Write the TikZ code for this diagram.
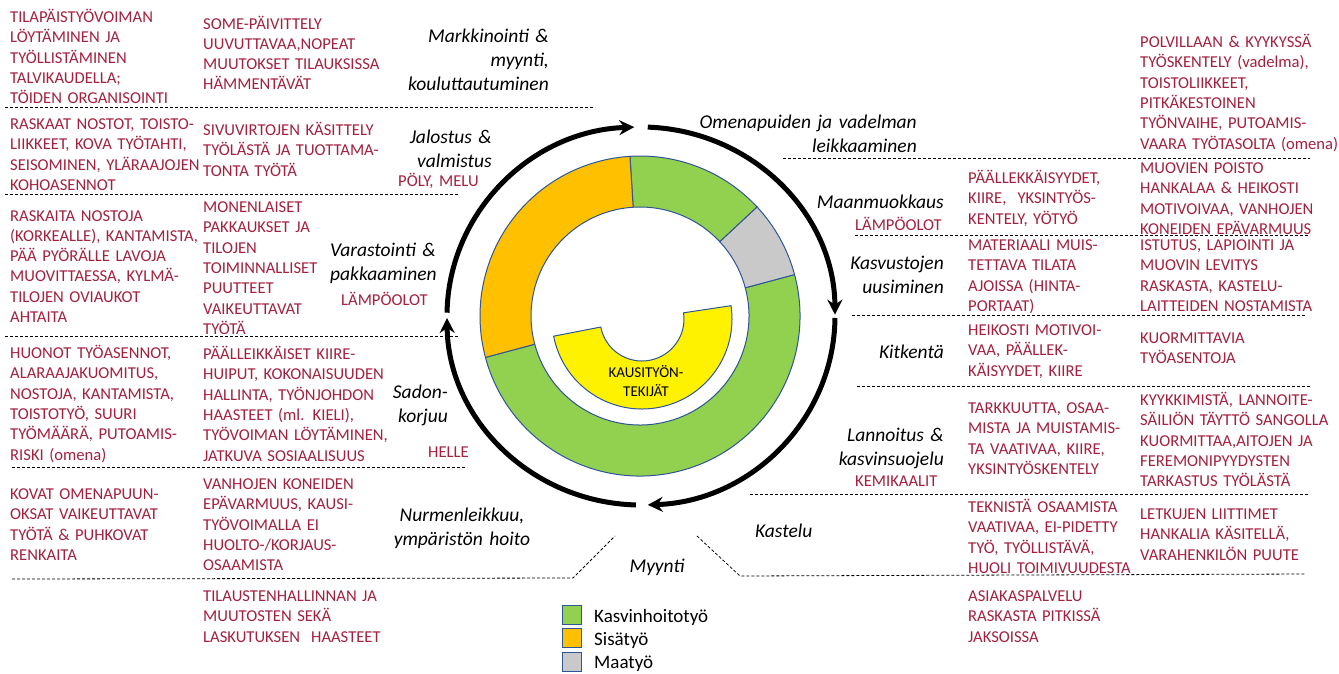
\documentclass[tikz,border=0pt]{standalone}
\usepackage{fontspec}
\setmainfont{Carlito}
\usetikzlibrary{arrows.meta}
\definecolor{riskred}{RGB}{163,32,62}
\definecolor{kasvigreen}{RGB}{146,208,80}
\definecolor{sisaorange}{RGB}{255,192,0}
\definecolor{maagray}{RGB}{201,201,201}
\definecolor{ringblue}{RGB}{47,85,151}
\newcommand{\riskfont}{\fontsize{16.6}{20.3}\selectfont}
\newcommand{\stagefont}{\fontsize{19.5}{24}\selectfont\itshape}
\newcommand{\keyfont}{\fontsize{19}{23}\selectfont}

\begin{document}
\begin{tikzpicture}[x=1pt,y=-1pt]
    % Setup the styles
        \tikzset{risk style/.style={anchor=base west,
                                    inner sep=0pt,
                                    text width=250pt,
                                    align=left,
                                    text=riskred,
                                    font=\riskfont},
                 stage style/.style={anchor=base east,
                                    inner sep=0pt,
                                    text width=230pt,
                                    align=right,
                                    font=\stagefont},
                 sep line/.style={dash pattern=on 3pt off 2pt, line width=0.8pt},
                 cycle arrow/.style={line width=5pt,
                                    -{Stealth[length=15pt,width=15pt,inset=5pt]}},
                 ring part/.style={draw=ringblue, line width=1pt},
                 key box/.style={draw=ringblue, line width=1.5pt,
                                    minimum size=19pt, inner sep=0pt},
                 key text/.style={anchor=base west, inner sep=0pt, font=\keyfont}}
        \useasboundingbox (0,0) rectangle (1339,673);
        \coordinate (hub) at (641,316);
        \coordinate (core) at (640,316);
        \coordinate (seed) at (642,319);
        % Draw the ring of work types
        \foreach \from/\to/\col in {-15/165/kasvigreen, -43/-15/maagray,
                                    -93.6/-43/kasvigreen, -195/-93.6/sisaorange}
            \filldraw[ring part, fill=\col] (core) ++(\from:160)
                arc[start angle=\from, end angle=\to, radius=160]
                -- ++(\to:-51)
                arc[start angle=\to, end angle=\from, radius=109] -- cycle;
        \filldraw[ring part, fill=yellow] (seed) ++(-8.5:90)
            arc[start angle=-8.5, end angle=169, radius=90]
            -- ++(169:-48)
            arc[start angle=169, end angle=-8.5, radius=42] -- cycle;
        \node[font=\fontsize{15}{18.5}\selectfont, align=center] at (646,381) (kausi) {KAUSITYÖN-\\TEKIJÄT};
        % Draw the year cycle
        \draw[cycle arrow] (hub) ++(-179:194 and 189)
            arc[start angle=-179, end angle=-92, x radius=194, y radius=189];
        \draw[cycle arrow] (hub) ++(-88:194 and 189)
            arc[start angle=-88, end angle=-0.4, x radius=194, y radius=189];
        \draw[cycle arrow] (hub) ++(0.6:194 and 189)
            arc[start angle=0.6, end angle=88, x radius=194, y radius=189];
        \draw[cycle arrow] (hub) ++(91.5:194 and 189)
            arc[start angle=91.5, end angle=179.4, x radius=194, y radius=189];
        % Separators
        \draw[sep line] (5,107) -- (595,107);
        \draw[sep line] (5,194) -- (458,194);
        \draw[sep line] (5,336) -- (458,336);
        \draw[sep line] (12,467) -- (467,467);
        \draw[sep line] (12,579) -- (573,578) -- (615,536);
        \draw[sep line] (783,158) -- (1310,158);
        \draw[sep line] (855,235) -- (1310,235);
        \draw[sep line] (852,315) -- (1305,315);
        \draw[sep line] (857,386) -- (1310,386);
        \draw[sep line] (750,494) -- (1310,494);
        \draw[sep line] (697,536) -- (740,576) -- (1305,574);
        % Work phases
        \node[stage style] at (549,42) (markkinointi) {Markkinointi \&\\myynti,\\kouluttautuminen};
        \node[stage style] at (917,128) (leikkuu) {Omenapuiden ja vadelman\\leikkaaminen};
        \node[stage style] at (492,143) (jalostus) {Jalostus \&\hspace{4pt}\\valmistus};
        \node[stage style] at (944,208) (muokkaus) {Maanmuokkaus};
        \node[stage style] at (944,269) (uusiminen) {Kasvustojen\\uusiminen};
        \node[stage style, anchor=base west, align=left] at (330,256) (varastointi) {Varastointi \&\\pakkaaminen};
        \node[stage style] at (944,358) (kitkenta) {Kitkentä};
        \node[stage style] at (448,398) (sadonkorjuu) {Sadon-\\korjuu};
        \node[stage style] at (944,441) (lannoitus) {Lannoitus \&\hspace{4pt}\\kasvinsuojelu};
        \node[stage style, anchor=base west, align=left] at (755,537) (kastelu) {Kastelu};
        \node[stage style, anchor=base, align=center] at (462,521) (nurmi) {Nurmenleikkuu,\\ympäristön hoito};
        \node[stage style, anchor=base, align=center] at (657,572) (myynti) {Myynti};
        % Conditions
        \node[risk style] at (398,186.5) (poly) {PÖLY, MELU};
        \node[risk style] at (341,305.5) (lampoVarasto) {LÄMPÖOLOT};
        \node[risk style] at (428,457.5) (helle) {HELLE};
        \node[risk style] at (855,230) (lampoMaa) {LÄMPÖOLOT};
        \node[risk style] at (855,486) (kemikaalit) {KEMIKAALIT};
        % Left risks
        \node[risk style] at (10,22.5) (talvi) {TILAPÄISTYÖVOIMAN\\LÖYTÄMINEN JA\\TYÖLLISTÄMINEN\\TALVIKAUDELLA;\\TÖIDEN ORGANISOINTI};
        \node[risk style] at (203,29) (some) {SOME-PÄIVITTELY\\UUVUTTAVAA,NOPEAT\\MUUTOKSET TILAUKSISSA\\HÄMMENTÄVÄT};
        \node[risk style] at (10,129.5) (nostot) {RASKAAT NOSTOT, TOISTO-\\LIIKKEET, KOVA TYÖTAHTI,\\SEISOMINEN, YLÄRAAJOJEN\\KOHOASENNOT};
        \node[risk style] at (203,135.5) (sivuvirta) {SIVUVIRTOJEN KÄSITTELY\\TYÖLÄSTÄ JA TUOTTAMA-\\TONTA TYÖTÄ};
        \node[risk style] at (10,221) (lavat) {RASKAITA NOSTOJA\\(KORKEALLE), KANTAMISTA,\\PÄÄ PYÖRÄLLE LAVOJA\\MUOVITTAESSA, KYLMÄ-\\TILOJEN OVIAUKOT\\AHTAITA};
        \node[risk style] at (203,212.5) (pakkaus) {MONENLAISET\\PAKKAUKSET JA\\TILOJEN\\TOIMINNALLISET\\PUUTTEET\\VAIKEUTTAVAT\\TYÖTÄ};
        \node[risk style] at (10,358.5) (asennot) {HUONOT TYÖASENNOT,\\ALARAAJAKUOMITUS,\\NOSTOJA, KANTAMISTA,\\TOISTOTYÖ, SUURI\\TYÖMÄÄRÄ, PUTOAMIS-\\RISKI (omena)};
        \node[risk style] at (203,359.5) (kiire) {PÄÄLLEIKKÄISET KIIRE-\\HUIPUT, KOKONAISUUDEN\\HALLINTA, TYÖNJOHDON\\HAASTEET (ml. KIELI),\\TYÖVOIMAN LÖYTÄMINEN,\\JATKUVA SOSIAALISUUS};
        \node[risk style] at (10,499.5) (oksat) {KOVAT OMENAPUUN-\\OKSAT VAIKEUTTAVAT\\TYÖTÄ \& PUHKOVAT\\RENKAITA};
        \node[risk style] at (203,489.5) (koneet) {VANHOJEN KONEIDEN\\EPÄVARMUUS, KAUSI-\\TYÖVOIMALLA EI\\HUOLTO-/KORJAUS-\\OSAAMISTA};
        \node[risk style] at (203,601.5) (tilaukset) {TILAUSTENHALLINNAN JA\\MUUTOSTEN SEKÄ\\LASKUTUKSEN\ \ HAASTEET};
        % Right risks
        \node[risk style] at (1140,47.5) (polvi) {POLVILLAAN \& KYYKYSSÄ\\TYÖSKENTELY (vadelma),\\TOISTOLIIKKEET,\\PITKÄKESTOINEN\\TYÖNVAIHE, PUTOAMIS-\\VAARA TYÖTASOLTA (omena)};
        \node[risk style] at (968,183.5) (yotyo) {PÄÄLLEKKÄISYYDET,\\KIIRE,\ \ YKSINTYÖS-\\KENTELY, YÖTYÖ};
        \node[risk style] at (1140,173.5) (muovit) {MUOVIEN POISTO\\HANKALAA \& HEIKOSTI\\MOTIVOIVAA, VANHOJEN\\KONEIDEN EPÄVARMUUS};
        \node[risk style] at (968,250.5) (materiaali) {MATERIAALI MUIS-\\TETTAVA TILATA\\AJOISSA (HINTA-\\PORTAAT)};
        \node[risk style] at (1140,250.5) (istutus) {ISTUTUS, LAPIOINTI JA\\MUOVIN LEVITYS\\RASKASTA, KASTELU-\\LAITTEIDEN NOSTAMISTA};
        \node[risk style] at (968,335.5) (motivaatio) {HEIKOSTI MOTIVOI-\\VAA, PÄÄLLEK-\\KÄISYYDET, KIIRE};
        \node[risk style] at (1140,343.5) (kuormitus) {KUORMITTAVIA\\TYÖASENTOJA};
        \node[risk style] at (968,413.5) (tarkkuus) {TARKKUUTTA, OSAA-\\MISTA JA MUISTAMIS-\\TA VAATIVAA, KIIRE,\\YKSINTYÖSKENTELY};
        \node[risk style] at (1140,405.5) (sailio) {KYYKKIMISTÄ, LANNOITE-\\SÄILIÖN TÄYTTÖ SANGOLLA\\KUORMITTAA,AITOJEN JA\\FEREMONIPYYDYSTEN\\TARKASTUS TYÖLÄSTÄ};
        \node[risk style] at (968,512.5) (tekniikka) {TEKNISTÄ OSAAMISTA\\VAATIVAA, EI-PIDETTY\\TYÖ, TYÖLLISTÄVÄ,\\HUOLI TOIMIVUUDESTA};
        \node[risk style] at (1140,519.5) (letkut) {LETKUJEN LIITTIMET\\HANKALIA KÄSITELLÄ,\\VARAHENKILÖN PUUTE};
        \node[risk style] at (968,601.5) (asiakas) {ASIAKASPALVELU\\RASKASTA PITKISSÄ\\JAKSOISSA};
        % Legend
        \node[key box, fill=kasvigreen] at (572,615) (keyGreen) {};
        \node[key box, fill=sisaorange] at (572,638) (keyOrange) {};
        \node[key box, fill=maagray] at (572,662) (keyGray) {};
        \node[key text] at (594,622) (keyGreenText) {Kasvinhoitotyö};
        \node[key text] at (594,645) (keyOrangeText) {Sisätyö};
        \node[key text] at (594,668) (keyGrayText) {Maatyö};
\end{tikzpicture}
\end{document}
